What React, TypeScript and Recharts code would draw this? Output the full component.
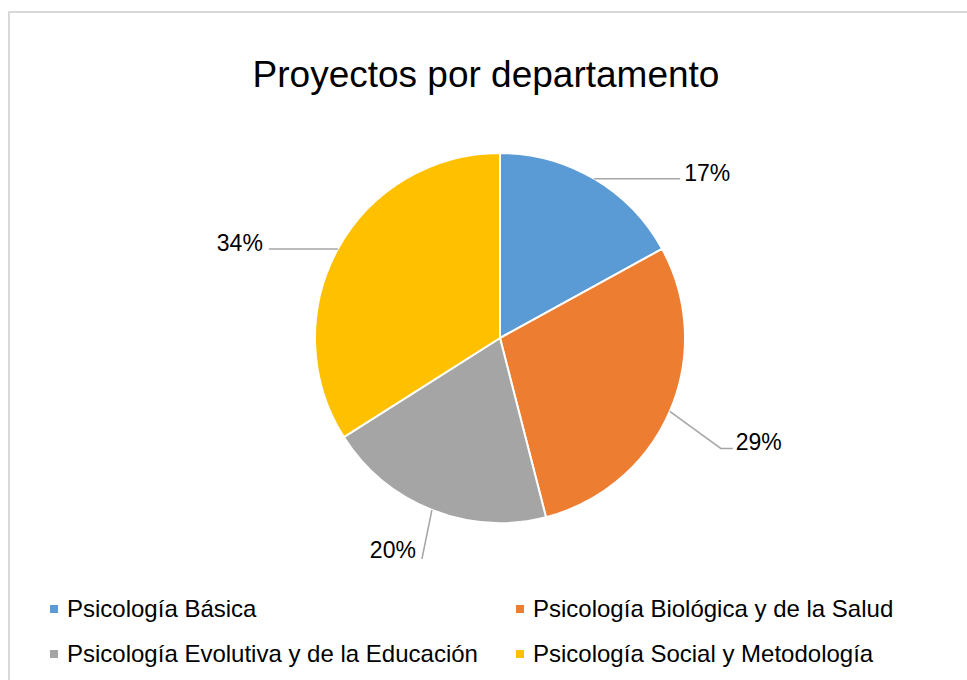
import React from "react";
import { PieChart, Pie, Cell, Legend } from "recharts";

const categories = [
  "Psicología Básica",
  "Psicología Biológica y de la Salud",
  "Psicología Evolutiva y de la Educación",
  "Psicología Social y Metodología",
];
const shares = [17, 29, 20, 34];
const colors = ["#5B9BD5", "#ED7D31", "#A5A5A5", "#FFC000"];
const title = "Proyectos por departamento";

const data = categories.map((name, i) => ({ name, value: shares[i] }));

const RAD = Math.PI / 180;
const FONT = "'Liberation Sans', Arial, sans-serif";

const leader: { pts: [number, number][]; anchor: "start" | "end"; tdx: number; tdy: number }[] = [
  { pts: [[86, 0]], anchor: "start", tdx: 4, tdy: -6 },
  { pts: [[51, 37], [63, 37]], anchor: "start", tdx: 3, tdy: -6 },
  { pts: [[-10, 49]], anchor: "end", tdx: -6, tdy: -9 },
  { pts: [[-69, 0]], anchor: "end", tdx: -6, tdy: -6 },
];

const renderLabel = (props: any) => {
  const { cx, cy, midAngle, outerRadius, index, value } = props;
  const ex = cx + outerRadius * Math.cos(-midAngle * RAD);
  const ey = cy + outerRadius * Math.sin(-midAngle * RAD);
  const L = leader[index];
  const pts = [[ex, ey], ...L.pts.map(([dx, dy]) => [ex + dx, ey + dy])];
  const last = pts[pts.length - 1];
  const d = pts.map((p, i) => `${i === 0 ? "M" : "L"}${p[0]},${p[1]}`).join(" ");
  return (
    <g key={`lbl-${index}`}>
      <path d={d} stroke="#A6A6A6" strokeWidth={1.5} fill="none" />
      <text
        x={last[0] + L.tdx}
        y={last[1] + L.tdy}
        textAnchor={L.anchor}
        dominantBaseline="central"
        fontFamily={FONT}
        fontSize={23}
        fill="#000"
      >
        {`${value}%`}
      </text>
    </g>
  );
};

const renderLegend = () => {
  const cols = [50, 516];
  const rows = [609, 654];
  return (
    <div style={{ position: "relative", width: 967, height: 100 }}>
      {categories.map((name, i) => {
        const x = cols[i % 2];
        const y = rows[Math.floor(i / 2)] - 590;
        return (
          <div
            key={name}
            style={{
              position: "absolute",
              left: x,
              top: y - 14,
              height: 28,
              display: "flex",
              alignItems: "center",
              fontFamily: FONT,
              fontSize: 24,
              color: "#000",
              whiteSpace: "nowrap",
            }}
          >
            <span
              style={{
                display: "inline-block",
                width: 8,
                height: 8,
                background: colors[i],
                marginRight: 9,
              }}
            />
            {name}
          </div>
        );
      })}
    </div>
  );
};

export default function App() {
  return (
    <div
      style={{
        position: "fixed",
        left: 0,
        top: 0,
        width: 967,
        height: 680,
        overflow: "hidden",
        background: "#fff",
      }}
    >
      <div
        style={{
          position: "absolute",
          left: 8,
          top: 11,
          width: 1000,
          height: 720,
          border: "2px solid #D9D9D9",
          boxSizing: "border-box",
        }}
      />
      <div style={{ position: "absolute", left: 0, top: 0 }}>
        <PieChart width={967} height={680} margin={{ top: 0, right: 0, bottom: 0, left: 0 }}>
          <text
            x={486}
            y={74}
            textAnchor="middle"
            dominantBaseline="central"
            fontFamily={FONT}
            fontSize={37}
            fill="#000"
          >
            {title}
          </text>
          <Pie
            data={data}
            dataKey="value"
            nameKey="name"
            cx={500}
            cy={338}
            outerRadius={185}
            startAngle={90}
            endAngle={-270}
            stroke="#fff"
            strokeWidth={2}
            label={renderLabel}
            labelLine={false}
            isAnimationActive={false}
          >
            {data.map((d, i) => (
              <Cell key={d.name} fill={colors[i]} />
            ))}
          </Pie>
          <Legend
            content={renderLegend}
            wrapperStyle={{ position: "absolute", left: 0, top: 590, width: 967, height: 100 }}
          />
        </PieChart>
      </div>
    </div>
  );
}
